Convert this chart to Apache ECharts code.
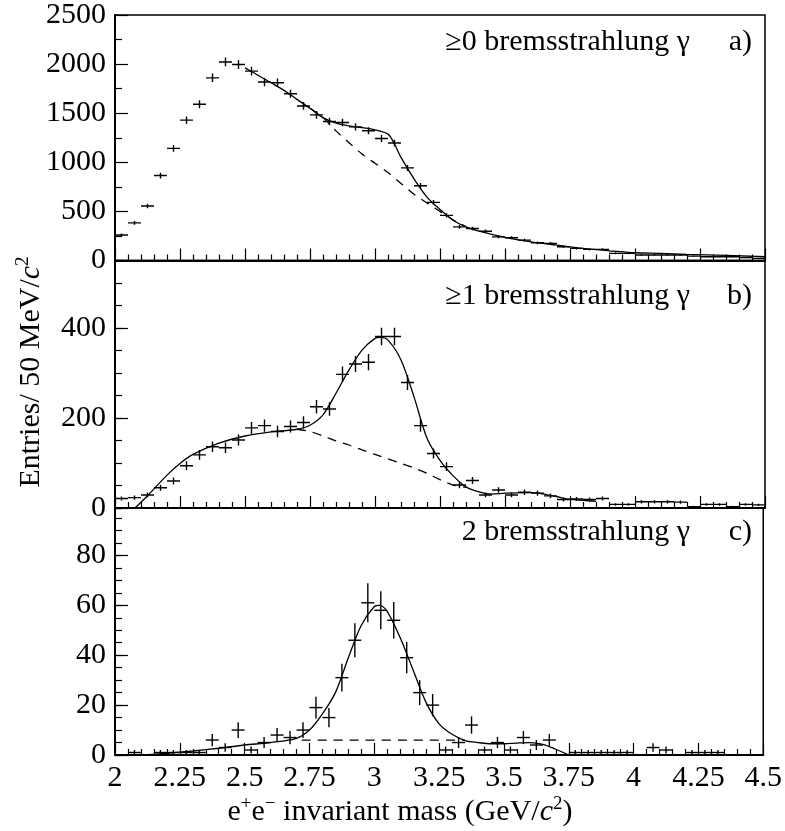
<!DOCTYPE html>
<html><head><meta charset="utf-8">
<script src="https://cdn.jsdelivr.net/npm/echarts@6/dist/echarts.min.js"></script>
<style>html,body{margin:0;padding:0;background:#fff}#c{width:785px;height:831px}</style>
</head><body><div id="c"></div>
<script>
// ---- data ----
const binCenters = [2.025,2.075,2.125,2.175,2.225,2.275,2.325,2.375,2.425,2.475,
  2.525,2.575,2.625,2.675,2.725,2.775,2.825,2.875,2.925,2.975,
  3.025,3.075,3.125,3.175,3.225,3.275,3.325,3.375,3.425,3.475,
  3.525,3.575,3.625,3.675,3.725,3.775,3.825,3.875,3.925,3.975,
  4.025,4.075,4.125,4.175,4.225,4.275,4.325,4.375,4.425,4.475];
const halfBin = 0.025;

const countsA = [260,383,555,865,1142,1429,1591,1860,2022,1996,
  1928,1817,1810,1698,1574,1483,1415,1405,1361,1321,
  1243,1196,943,761,592,460,342,326,298,241,
  231,207,180,174,140,123,113,113,73,73,
  56,56,56,56,45,38,38,38,30,22];
const countsB = [21,23,29,45,60,94,118,136,134,151,
  178,183,170,181,190,225,220,297,320,324,
  381,381,279,183,121,92,51,61,29,40,
  29,35,33,27,19,20,19,21,8,8,
  14,14,14,13,3,8,8,3,8,7];
const countsC = [0,1,0,1,1,1,1,6,3,10,
  2,5,8,7,10,19,15,31,46,61,
  58,54,39,25,20,2,5,12,2,5,
  2,7,4,6,0,1,1,1,1,1,
  0,3,2,0,1,1,1,0,0,0];

const fitAx = [2.5,2.55,2.6,2.65,2.7,2.75,2.8,2.85,2.9,2.95,3.0,3.05,3.075,3.1,3.15,3.2,3.25,3.3,3.35,3.4,3.5,3.6,3.7,3.8,3.9,4.0,4.1,4.2,4.35,4.5];
const fitAy = [1961,1887,1810,1732,1641,1550,1455,1398,1371,1354,1331,1287,1186,1050,832,646,520,410,342,298,235,190,157,123,99,79,73,63,53,38];
const bkgAx = [2.75,2.8,2.85,2.9,2.95,3.0,3.05,3.1,3.15,3.2,3.25,3.3,3.35];
const bkgAy = [1550,1455,1320,1200,1085,990,895,785,675,585,500,415,345];

const fitBx = [2.077,2.128,2.2,2.25,2.3,2.4,2.5,2.6,2.7,2.75,2.8,2.85,2.9,2.95,3.0,3.02,3.05,3.1,3.15,3.2,3.25,3.3,3.35,3.4,3.45,3.5,3.6,3.65,3.7,3.75,3.8,3.85];
const fitBy = [0,29,73,99,119,144,160,169,175,184,207,255,307,351,377,379,373,329,247,155,106,72,47,36,31,33,34,31,25,19,17,15];
const bkgBx = [2.7,2.75,2.8,2.85,2.9,2.95,3.0,3.05,3.1,3.15,3.2,3.25,3.3,3.35];
const bkgBy = [175,170,160,149,140,129,119,109,99,89,77,63,51,46];

const fitCx = [2.108,2.2,2.3,2.4,2.5,2.6,2.7,2.75,2.8,2.85,2.9,2.95,3.0,3.02,3.05,3.1,3.15,3.2,3.25,3.3,3.35,3.4,3.45,3.5,3.55,3.6,3.65,3.7,3.75];
const fitCy = [0,0.7,1.6,2.7,4,5,6.7,10,16.5,25,39,52,59.5,60,57.5,47,34,21,12.5,8.3,5.8,5,4.5,4.5,4.8,5,4.3,2.3,0];
const bkgCx = [2.72,3.35];
const bkgCy = [6,6];

const yTicksA = {max:2500, step:500};
const yTicksB = {max:550, step:200, minor:50};
const yTicksC = {max:99, step:20, minor:5};

const titlesPanel = ['\u22650 bremsstrahlung \u03b3','\u22651 bremsstrahlung \u03b3','2 bremsstrahlung \u03b3'];
const tagsPanel = ['a)','b)','c)'];

// ---- helpers ----
const FONT = '"Liberation Serif","Times New Roman",serif';
const FS = 30;
function pointsWithErr(counts){
  const out = [];
  counts.forEach((v,i)=>{ if(v>0) out.push([binCenters[i], v, Math.sqrt(v)]); }); // Poisson errors
  return out;
}
function pairs(xs, ys){ return xs.map((x,i)=>[x, ys[i]]); }
function renderCross(params, api){
  const x = api.value(0), y = api.value(1), e = api.value(2);
  const l = api.coord([x-halfBin, y]), r = api.coord([x+halfBin, y]);
  const t = api.coord([x, y+e]), b = api.coord([x, Math.max(0, y-e)]);
  const st = {stroke:'#000', lineWidth:1.4};
  return {type:'group', children:[
    {type:'line', shape:{x1:l[0],y1:l[1],x2:r[0],y2:r[1]}, style:st},
    {type:'line', shape:{x1:t[0],y1:t[1],x2:b[0],y2:b[1]}, style:st}
  ]};
}
const plain = v => String(v);
function mkX(gi, showLabels){
  return {type:'value', gridIndex:gi, min:2, max:4.5, interval:0.25,
    axisLine:{show:true, onZero:false, lineStyle:{color:'#000', width:2}},
    axisTick:{show:true, inside:true, length:12, lineStyle:{color:'#000', width:1.2}},
    minorTick:{show:true, splitNumber:5, length:6, lineStyle:{color:'#000', width:1.2}},
    splitLine:{show:false}, minorSplitLine:{show:false},
    axisLabel:{show:showLabels, color:'#000', fontFamily:FONT, fontSize:FS, margin:8, formatter:plain}};
}
function mkY(gi, max, step, extra){
  return Object.assign({type:'value', gridIndex:gi, position:'left', min:0, max:max, interval:step,
    axisLine:{show:true, onZero:false, lineStyle:{color:'#000', width:2}},
    axisTick:{show:true, inside:true, length:13, lineStyle:{color:'#000', width:1.2}},
    splitLine:{show:false},
    axisLabel:{show:true, color:'#000', fontFamily:FONT, fontSize:FS, margin:9, formatter:plain, showMaxLabel:max % step === 0}}, extra||{});
}
function mkYminor(gi, max, step){
  return {type:'value', gridIndex:gi, position:'left', min:0, max:max, interval:step,
    axisLine:{show:false}, splitLine:{show:false}, axisLabel:{show:false},
    axisTick:{show:true, inside:true, length:7, lineStyle:{color:'#000', width:1.2}}};
}
function lineSeries(xi, yi, data, dashed){
  return {type:'line', xAxisIndex:xi, yAxisIndex:yi, data:data, showSymbol:false, symbol:'none', smooth:0.3,
    lineStyle:{color:'#000', width:1.3, type: dashed ? [9,7] : 'solid'}, z:3, silent:true};
}
function crossSeries(xi, yi, counts){
  return {type:'custom', xAxisIndex:xi, yAxisIndex:yi, data:pointsWithErr(counts), renderItem:renderCross, clip:true, z:4, silent:true};
}

const gridTops = [13.5, 260.5, 508];
const gridHeights = [247, 247.5, 247];
const labelY = [42, 296, 532];

const rich = {
  n:{fontFamily:FONT, fontSize:FS, color:'#000', verticalAlign:'bottom'},
  i:{fontFamily:FONT, fontSize:FS, fontStyle:'italic', color:'#000', verticalAlign:'bottom'},
  s:{fontFamily:FONT, fontSize:19, color:'#000', verticalAlign:'bottom', padding:[0,0,14,0]}
};

const graphics = [];
titlesPanel.forEach((t,k)=>{
  graphics.push({type:'text', x:690, y:labelY[k], style:{text:t, font:FS+'px '+FONT, fill:'#000', align:'right', verticalAlign:'middle'}});
  graphics.push({type:'text', x:752, y:labelY[k], style:{text:tagsPanel[k], font:FS+'px '+FONT, fill:'#000', align:'right', verticalAlign:'middle'}});
});
graphics.push({type:'text', x:30, y:372, rotation:Math.PI/2,
  style:{text:'{n|Entries/ 50 MeV/}{i|c}{s|2}', rich:rich, align:'center', verticalAlign:'middle'}});
graphics.push({type:'text', x:400, y:811,
  style:{text:'{n|e}{s|+}{n|e}{s|\u2212}{n| invariant mass (GeV/}{i|c}{s|2}{n|)}', rich:rich, align:'center', verticalAlign:'middle'}});

const option = {
  animation:false,
  backgroundColor:'#fff',
  grid: gridTops.map((t,k)=>({left:115, top:t, width:650, height:gridHeights[k], show:true, borderColor:'#000', borderWidth:1.5, backgroundColor:'transparent'})),
  xAxis:[mkX(0,false), mkX(1,false), mkX(2,true)],
  yAxis:[
    mkY(0, yTicksA.max, yTicksA.step, {minorTick:{show:true, splitNumber:2, length:7, lineStyle:{color:'#000', width:1.2}}}),
    mkY(1, yTicksB.max, yTicksB.step), mkYminor(1, yTicksB.max, yTicksB.minor),
    mkY(2, yTicksC.max, yTicksC.step), mkYminor(2, yTicksC.max, yTicksC.minor)
  ],
  series:[
    lineSeries(0,0,pairs(bkgAx,bkgAy),true),
    lineSeries(0,0,pairs(fitAx,fitAy),false),
    crossSeries(0,0,countsA),
    lineSeries(1,1,pairs(bkgBx,bkgBy),true),
    lineSeries(1,1,pairs(fitBx,fitBy),false),
    crossSeries(1,1,countsB),
    lineSeries(2,3,pairs(bkgCx,bkgCy),true),
    lineSeries(2,3,pairs(fitCx,fitCy),false),
    crossSeries(2,3,countsC)
  ],
  graphic: graphics
};
const chart = echarts.init(document.getElementById('c'), null, {renderer:'canvas'});
chart.setOption(option);
</script></body></html>
